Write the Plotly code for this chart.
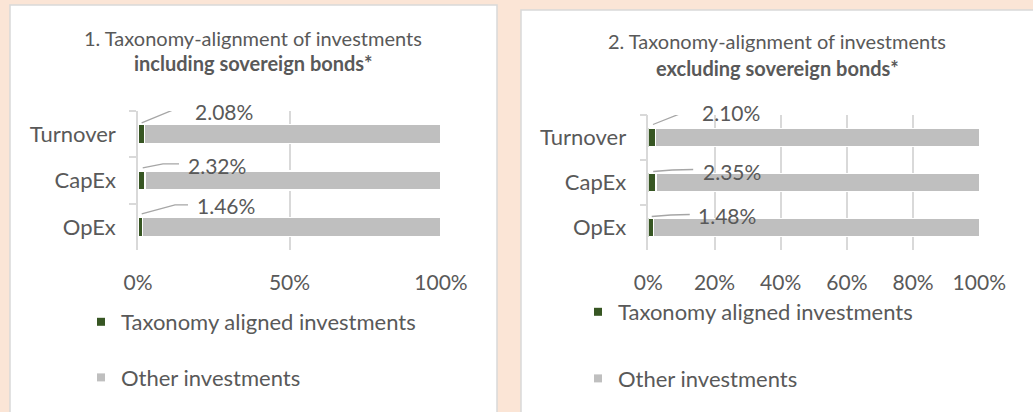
import plotly.graph_objects as go

categories = ["Turnover", "CapEx", "OpEx"]
incl_aligned = [2.08, 2.32, 1.46]
incl_other = [97.92, 97.68, 98.54]
excl_aligned = [2.10, 2.35, 1.48]
excl_other = [97.90, 97.65, 98.52]
series_names = ["Taxonomy aligned investments", "Other investments"]
x_ticks_left = [0, 50, 100]
x_ticks_right = [0, 20, 40, 60, 80, 100]
title_left = ["1. Taxonomy-alignment of investments", "including sovereign bonds*"]
title_right = ["2. Taxonomy-alignment of investments", "excluding sovereign bonds*"]

W, H = 1033, 412
FONT = "Lato"
TXT = "#595959"
GREEN = "#375623"
GREY = "#BFBFBF"
GRID = "#D9D9D9"
BG = "#FBE5D6"


def px(x):
    return x / W


def py(y):
    return (H - y) / H


fig = go.Figure()

panels = [
    dict(al=incl_aligned, ot=incl_other, xa="x", ya="y", legend="legend"),
    dict(al=excl_aligned, ot=excl_other, xa="x2", ya="y2", legend="legend2"),
]
for p in panels:
    fig.add_trace(go.Bar(y=categories, x=p["al"], orientation="h", name=series_names[0],
                         marker=dict(color=GREEN, line=dict(color="white", width=1.2)),
                         width=0.41, xaxis=p["xa"], yaxis=p["ya"], showlegend=False,
                         hoverinfo="x+y"))
    fig.add_trace(go.Bar(y=categories, x=p["ot"], orientation="h", name=series_names[1],
                         marker=dict(color=GREY, line=dict(color="white", width=1.2)),
                         width=0.41, xaxis=p["xa"], yaxis=p["ya"], showlegend=False,
                         hoverinfo="x+y"))
    # legend proxies (small square markers like the original)
    for name, col in zip(series_names, [GREEN, GREY]):
        fig.add_trace(go.Scatter(x=[None], y=[None], mode="markers", name=name,
                                 marker=dict(symbol="square", size=8, color=col),
                                 xaxis=p["xa"], yaxis=p["ya"], legend=p["legend"],
                                 legendgroup=p["legend"] + name))

# panel backgrounds
fig.add_shape(type="rect", xref="paper", yref="paper", x0=px(10), x1=px(497), y0=-0.1, y1=py(5),
              fillcolor="white", line=dict(color=GRID, width=1.5), layer="below")
fig.add_shape(type="rect", xref="paper", yref="paper", x0=px(521), x1=1.1, y0=-0.1, y1=py(10),
              fillcolor="white", line=dict(color=GRID, width=1.5), layer="below")

# titles
for lines, cx, ys in [(title_left, 253, (38, 63)), (title_right, 777, (41, 68))]:
    fig.add_annotation(text=lines[0], xref="paper", yref="paper", x=px(cx), y=py(ys[0]),
                       xanchor="center", yanchor="middle", showarrow=False,
                       font=dict(size=20, color=TXT, family=FONT))
    fig.add_annotation(text="<b>" + lines[1] + "</b>", xref="paper", yref="paper", x=px(cx),
                       y=py(ys[1]), xanchor="center", yanchor="middle", showarrow=False,
                       font=dict(size=20, color=TXT, family=FONT))

# data labels with leader lines (offsets in pixels from bar centre)
leader_left = [
    ([(0.5, 11.3), (33.8, 25), (44.5, 25)], (82.8, 23)),
    ([(1.2, 12.7), (21.5, 16.7), (37.5, 16.7)], (75.5, 15)),
    ([(1.5, 13), (34.8, 22), (47.8, 22)], (85.8, 21)),
]
leader_right = [
    ([(1.2, 13), (34, 26), (43, 26)], (79.2, 25)),
    ([(1, 11), (20, 12.5), (41, 13)], (79.8, 11)),
    ([(1, 11), (20, 12.5), (39, 13)], (76.2, 12)),
]
for vals, xa, ya, leaders in [(incl_aligned, "x", "y", leader_left),
                               (excl_aligned, "x2", "y2", leader_right)]:
    for cat, v, (pts, (tx, ty)) in zip(categories, vals, leaders):
        path = "M" + " L".join(f"{a},{b}" for a, b in pts)
        fig.add_shape(type="path", xref=xa, yref=ya, xsizemode="pixel", ysizemode="pixel",
                      xanchor=v / 2, yanchor=cat, path=path,
                      line=dict(color="#A6A6A6", width=1.3))
        fig.add_annotation(text=f"{v:.2f}%", xref=xa, yref=ya, x=v / 2, y=cat, xshift=tx,
                           yshift=ty, showarrow=False,
                           font=dict(size=21, color=TXT, family=FONT))

axis_font = dict(size=22, color=TXT, family=FONT)
yaxis_common = dict(type="category", categoryorder="array", categoryarray=categories,
                    range=[len(categories) - 0.5, -0.5], autorange=False,
                    showline=True, linecolor=GRID, linewidth=1.5,
                    ticks="outside", tickson="boundaries", ticklen=7, tickcolor=GRID,
                    tickwidth=1.5, showgrid=False, tickfont=axis_font, ticklabelstandoff=16,
                    fixedrange=True, automargin=False)
xaxis_common = dict(range=[0, 100], autorange=False, showgrid=True, gridcolor=GRID,
                    gridwidth=1.5, zeroline=False, showline=False, ticks="",
                    tickfont=dict(size=21, color=TXT, family=FONT), ticklabelstandoff=18,
                    fixedrange=True, automargin=False)

fig.update_layout(
    width=W, height=H, margin=dict(l=0, r=0, t=0, b=0, pad=0, autoexpand=False),
    paper_bgcolor=BG, plot_bgcolor="rgba(0,0,0,0)",
    barmode="stack", bargap=0.59,
    font=dict(family=FONT, color=TXT),
    xaxis=dict(domain=[px(138), px(441)], anchor="y", tickvals=x_ticks_left,
               ticktext=[f"{t}%" for t in x_ticks_left], **xaxis_common),
    yaxis=dict(domain=[py(250), py(111)], anchor="x", **yaxis_common),
    xaxis2=dict(domain=[px(648.3), px(979.3)], anchor="y2", tickvals=x_ticks_right,
                ticktext=[f"{t}%" for t in x_ticks_right], **xaxis_common),
    yaxis2=dict(domain=[py(250), py(115)], anchor="x2", **yaxis_common),
    legend=dict(x=px(81), y=py(301), xanchor="left", yanchor="top", traceorder="grouped",
                tracegroupgap=24, font=axis_font, bgcolor="rgba(0,0,0,0)"),
    legend2=dict(x=px(578), y=py(291), xanchor="left", yanchor="top", traceorder="grouped",
                 tracegroupgap=35, font=axis_font, bgcolor="rgba(0,0,0,0)"),
    showlegend=True,
)

fig.write_html("out.html", config={"displayModeBar": False},
               post_script="document.body.style.margin='0';"
                           "document.body.style.background='#FBE5D6';")
